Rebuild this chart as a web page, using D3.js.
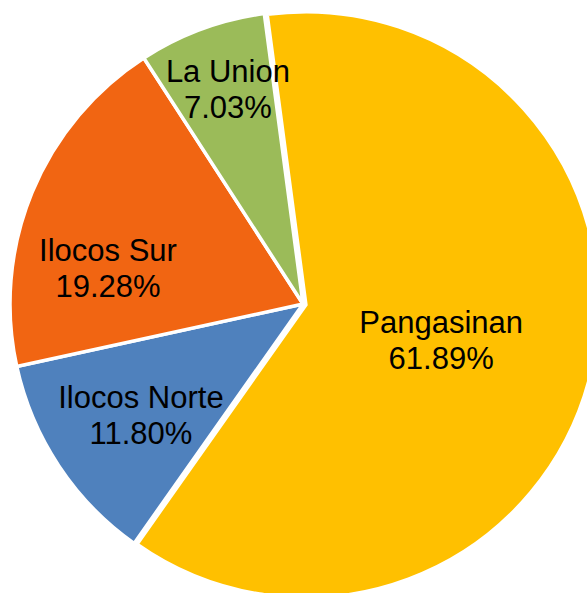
<!DOCTYPE html>
<html>
<head>
<meta charset="utf-8">
<script src="https://cdn.jsdelivr.net/npm/d3@7"></script>
<style>
  html, body { margin: 0; padding: 0; background: #fff; }
  svg { display: block; }
</style>
</head>
<body>
<svg id="chart" width="587" height="593"></svg>
<script>
// Data
const provinces = ["Pangasinan", "Ilocos Norte", "Ilocos Sur", "La Union"];
const shares = [61.89, 11.80, 19.28, 7.03];
const percentLabels = ["61.89%", "11.80%", "19.28%", "7.03%"];

// Styling
const colors = ["#FFC000", "#4F81BD", "#F16512", "#9BBB59"];
const labelRadiusFrac = [0.487, 0.67, 0.677, 0.776];
const labelAngleNudge = [0.012, -0.014, -0.206, 0.017]; // radians
const explode = [3, 0, 0, 0];

const width = 587, height = 593;
const cx = 303, cy = 304, radius = 293;
const startAngle = -7.6 * Math.PI / 180;

const svg = d3.select("#chart");
const g = svg.append("g").attr("transform", `translate(${cx},${cy})`);

const pie = d3.pie().sort(null).value(d => d)
  .startAngle(startAngle).endAngle(startAngle + 2 * Math.PI);
const arcs = pie(shares);
const arc = d3.arc().innerRadius(0).outerRadius(radius);

g.selectAll("path.slice")
  .data(arcs)
  .join("path")
  .attr("class", "slice")
  .attr("d", arc)
  .attr("fill", (d, i) => colors[i])
  .attr("stroke", "#fff")
  .attr("stroke-width", 3.5)
  .attr("stroke-linejoin", "miter")
  .attr("transform", (d, i) => {
    const a = (d.startAngle + d.endAngle) / 2;
    return `translate(${Math.sin(a) * explode[i]},${-Math.cos(a) * explode[i]})`;
  });

const fontSize = 31, lineGap = 36, capH = 22;
const labels = g.selectAll("text.lbl")
  .data(arcs)
  .join("text")
  .attr("class", "lbl")
  .attr("font-family", "'Liberation Sans', Arial, sans-serif")
  .attr("font-size", fontSize)
  .attr("fill", "#000")
  .attr("text-anchor", "middle")
  .attr("transform", (d, i) => {
    const a = (d.startAngle + d.endAngle) / 2 + labelAngleNudge[i];
    const r = radius * labelRadiusFrac[i];
    return `translate(${Math.sin(a) * r},${-Math.cos(a) * r})`;
  });

labels.append("tspan")
  .attr("x", 0)
  .attr("y", capH - (capH + lineGap) / 2)
  .text((d, i) => provinces[i]);
labels.append("tspan")
  .attr("x", 0)
  .attr("y", capH - (capH + lineGap) / 2 + lineGap)
  .text((d, i) => percentLabels[i]);
</script>
</body>
</html>
